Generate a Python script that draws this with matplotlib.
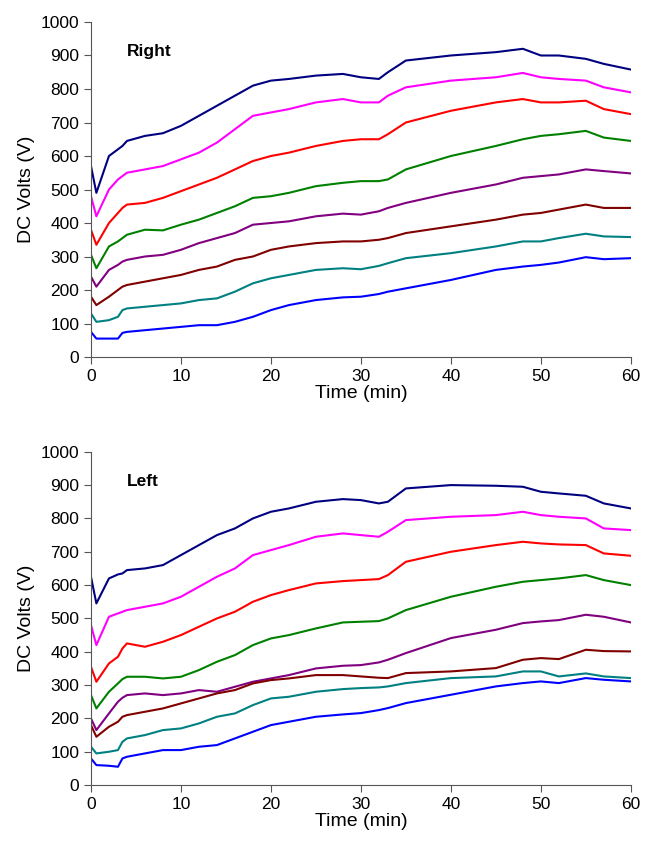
import matplotlib
matplotlib.use("Agg")
import matplotlib.pyplot as plt

plt.rcParams["font.family"] = ["Liberation Sans", "DejaVu Sans"]

t = [0, 0.6, 2, 3, 3.5, 4, 6, 8, 10, 12, 14, 16, 18, 20, 22, 25,
     28, 30, 32, 33, 35, 40, 45, 48, 50, 52, 55, 57, 60]

colors = ["#000080", "#FF00FF", "#FF0000", "#008000",
          "#800080", "#800000", "#008080", "#0000FF"]

# ---- Right side ----
right_navy = [570, 490, 600, 620, 630, 645, 660, 668, 690, 720, 750, 780, 810, 825, 830, 840,
              845, 835, 830, 850, 885, 900, 910, 920, 900, 900, 890, 875, 858]
right_magenta = [480, 420, 500, 530, 540, 550, 560, 570, 590, 610, 640, 680, 720, 730, 740, 760,
                 770, 760, 760, 780, 805, 825, 835, 848, 835, 830, 825, 805, 790]
right_red = [380, 335, 400, 430, 445, 455, 460, 475, 495, 515, 535, 560, 585, 600, 610, 630,
             645, 650, 650, 665, 700, 735, 760, 770, 760, 760, 765, 740, 725]
right_green = [305, 265, 330, 345, 355, 365, 380, 378, 395, 410, 430, 450, 475, 480, 490, 510,
               520, 525, 525, 530, 560, 600, 630, 650, 660, 665, 675, 655, 645]
right_purple = [240, 210, 260, 275, 285, 290, 300, 305, 320, 340, 355, 370, 395, 400, 405, 420,
                428, 425, 435, 445, 460, 490, 515, 535, 540, 545, 560, 555, 548]
right_brown = [180, 155, 180, 200, 210, 215, 225, 235, 245, 260, 270, 290, 300, 320, 330, 340,
               345, 345, 350, 355, 370, 390, 410, 425, 430, 440, 455, 445, 445]
right_teal = [130, 105, 110, 120, 140, 145, 150, 155, 160, 170, 175, 195, 220, 235, 245, 260,
              265, 262, 272, 280, 295, 310, 330, 345, 345, 355, 368, 360, 358]
right_blue = [75, 55, 55, 55, 72, 75, 80, 85, 90, 95, 95, 105, 120, 140, 155, 170,
              178, 180, 188, 195, 205, 230, 260, 270, 275, 282, 298, 292, 295]

# ---- Left side ----
left_navy = [625, 545, 620, 632, 635, 645, 650, 660, 690, 720, 750, 770, 800, 820, 830, 850,
             858, 855, 845, 850, 890, 900, 898, 895, 880, 875, 868, 845, 830]
left_magenta = [480, 420, 505, 515, 520, 525, 535, 545, 565, 595, 625, 650, 690, 705, 720, 745,
                755, 750, 745, 760, 795, 805, 810, 820, 810, 805, 800, 770, 765]
left_red = [355, 310, 365, 385, 410, 425, 415, 430, 450, 475, 500, 520, 550, 570, 585, 605,
            612, 615, 618, 630, 670, 700, 720, 730, 725, 722, 720, 695, 688]
left_green = [270, 230, 280, 305, 318, 325, 325, 320, 325, 345, 370, 390, 420, 440, 450, 470,
              488, 490, 492, 500, 525, 565, 595, 610, 615, 620, 630, 615, 600]
left_purple = [200, 165, 215, 250, 262, 270, 275, 270, 275, 285, 280, 295, 310, 320, 330, 350,
               358, 360, 368, 376, 396, 441, 466, 486, 491, 495, 511, 505, 488]
left_brown = [180, 145, 175, 190, 205, 210, 220, 230, 245, 260, 275, 285, 305, 315, 320, 330,
              330, 326, 322, 321, 336, 341, 351, 376, 381, 378, 406, 402, 401]
left_teal = [115, 95, 100, 105, 130, 140, 150, 165, 170, 185, 205, 215, 240, 260, 265, 280,
             288, 291, 293, 296, 306, 321, 326, 341, 341, 326, 335, 326, 321]
left_blue = [80, 60, 58, 55, 80, 85, 95, 105, 105, 115, 120, 140, 160, 180, 190, 205,
             212, 216, 225, 231, 246, 271, 296, 306, 311, 306, 321, 316, 311]

panels = [
    ("Right", [right_navy, right_magenta, right_red, right_green,
               right_purple, right_brown, right_teal, right_blue]),
    ("Left", [left_navy, left_magenta, left_red, left_green,
              left_purple, left_brown, left_teal, left_blue]),
]

fig = plt.figure(figsize=(6.47, 8.46), dpi=100)
ax_top = fig.add_axes([0.1406, 0.578, 0.8344, 0.396])
ax_bot = fig.add_axes([0.1406, 0.072, 0.8344, 0.394])

for ax, (name, series) in zip([ax_top, ax_bot], panels):
    for vals, c in zip(series, colors):
        ax.plot(t, vals, color=c, lw=1.5)
    ax.set_xlim(0, 60)
    ax.set_ylim(0, 1000)
    ax.set_xticks(range(0, 61, 10))
    ax.set_yticks(range(0, 1001, 100))
    ax.spines["top"].set_visible(False)
    ax.spines["right"].set_visible(False)
    ax.spines["left"].set_color("#555555")
    ax.spines["bottom"].set_color("#555555")
    ax.tick_params(direction="out", length=5, color="#555555", labelsize=12.5)
    ax.set_xlabel("Time (min)", fontsize=14, labelpad=1)
    ax.set_ylabel("DC Volts (V)", fontsize=14, labelpad=4)
    ax.text(4, 912, name, fontsize=12.5, fontweight="bold", va="center")

fig.savefig("out.png", dpi=100)
